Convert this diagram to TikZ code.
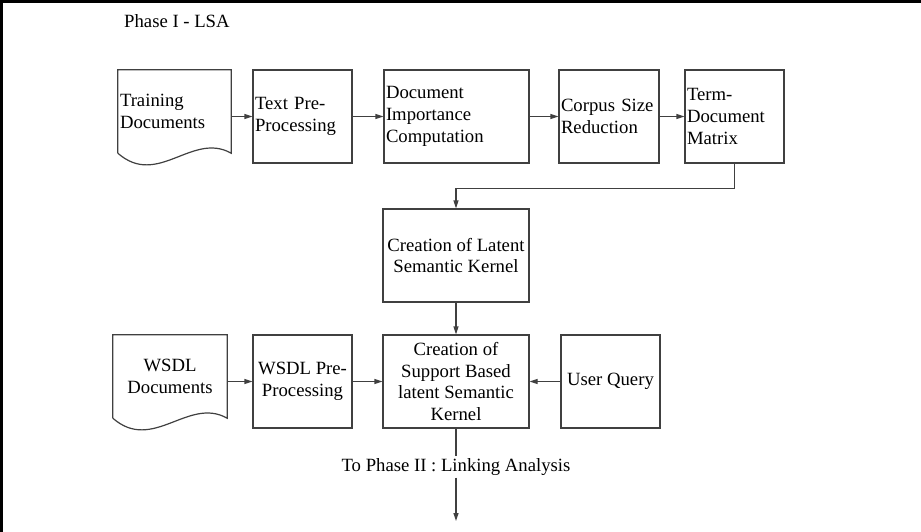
\documentclass[tikz,border=0pt]{standalone}
\usepackage{fontspec}
\setmainfont{Liberation Serif}
\usetikzlibrary{arrows.meta}

\tikzset{
  procbox/.style={draw=black!75, line width=1.2pt, inner sep=2pt, align=center,
    minimum width=#1, minimum height=93pt},
  leftbox/.style={procbox=#1, align=left, text width=#1-4pt},
  docbox/.style={inner sep=2pt, minimum width=#1, minimum height=83pt, align=center},
  docedge/.style={draw=black!75, line width=1.2pt},
  flowarrow/.style={draw=black!75, line width=1.2pt, -{Triangle[length=8pt,width=5pt]}},
}

\begin{document}
\begin{tikzpicture}[x=1pt, y=-1pt, font=\fontsize{18.7}{21.7}\selectfont]
  \useasboundingbox (0,0) rectangle (921,532);
  % frame
  \draw[line width=3pt] (1.5,532) -- (1.5,1.5) -- (921,1.5);

  \node[anchor=west, inner sep=0pt] (phase) at (124,21) {Phase I - LSA};

  % phase I row
  \node[docbox=113pt, align=left, text width=109pt] (train) at (174.5,111.5) {Training\\Documents};
  \draw[docedge] (train.south west) -- (train.north west) -- (train.north east) -- (train.south east)
    .. controls ([shift={(-39,-22)}]train.south east) and ([shift={(40,35)}]train.south west) .. (train.south west);
  \node[leftbox=99pt] (textpre) at (302.5,116.5) {Text Pre-\\Processing};
  \node[leftbox=145pt] (docimp) at (456.5,116.5) {Document\\Importance\\Computation};
  \node[leftbox=100pt] (corpus) at (609,116.5) {Corpus Size\\Reduction};
  \node[leftbox=99pt] (termdoc) at (734.5,116.5) {Term-\\Document\\Matrix};

  \draw[flowarrow] (train.east |- textpre.west) -- (textpre.west);
  \draw[flowarrow] (textpre) -- (docimp);
  \draw[flowarrow] (docimp) -- (corpus);
  \draw[flowarrow] (corpus) -- (termdoc);

  % kernels
  \node[procbox=146pt] (latent) at (456,255.5) {Creation of Latent\\Semantic Kernel};
  \node[procbox=146pt] (support) at (456,381.5) {Creation of\\Support Based\\latent Semantic\\Kernel};
  \draw[flowarrow] (termdoc.south) -- ++(0,25) -| (latent.north);
  \draw[flowarrow] (latent) -- (support);

  % wsdl row
  \node[docbox=114pt] (wsdl) at (170,376.5) {WSDL\\Documents};
  \draw[docedge] (wsdl.south west) -- (wsdl.north west) -- (wsdl.north east) -- (wsdl.south east)
    .. controls ([shift={(-39,-22)}]wsdl.south east) and ([shift={(40,35)}]wsdl.south west) .. (wsdl.south west);
  \node[procbox=99pt] (wsdlpre) at (302.5,381.5) {WSDL Pre-\\Processing};
  \node[procbox=99pt] (query) at (610.5,381.5) {User Query};

  \draw[flowarrow] (wsdl.east |- wsdlpre.west) -- (wsdlpre.west);
  \draw[flowarrow] (wsdlpre) -- (support);
  \draw[flowarrow] (query) -- (support);

  % to phase II
  \node[inner sep=2pt] (linking) at (456,467) {To Phase II : Linking Analysis};
  \coordinate (out) at (456,521);
  \draw[docedge] (support.south) -- (linking.north);
  \draw[flowarrow] (linking.south) -- (out);
\end{tikzpicture}
\end{document}
